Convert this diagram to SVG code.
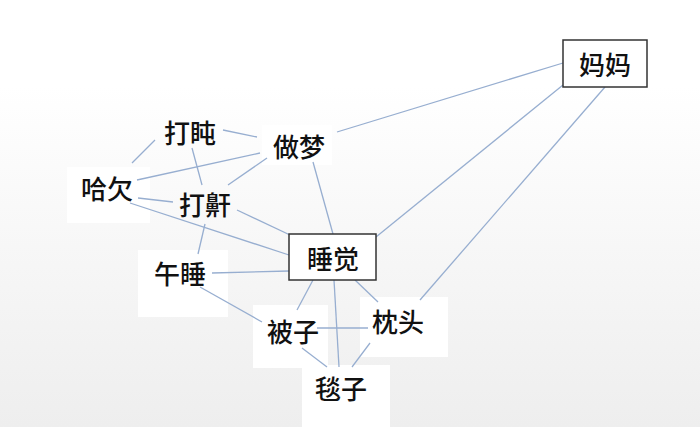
<svg xmlns="http://www.w3.org/2000/svg" width="700" height="427" viewBox="0 0 700 427">
<defs>
<linearGradient id="bg" x1="0" y1="0" x2="0" y2="1">
<stop offset="0" stop-color="#ffffff"/>
<stop offset="0.2" stop-color="#ffffff"/>
<stop offset="1" stop-color="#eeeeee"/>
</linearGradient>
<style>
.lbl{font-family:"Noto Sans CJK SC","Noto Sans",sans-serif;font-size:26px;font-weight:500;fill:#111;text-anchor:middle;dominant-baseline:central}
.pad{fill:#ffffff}
.box{fill:#ffffff;stroke:#333;stroke-width:1.5}
.edge line{stroke:#97aed0;stroke-width:1.3}
</style>
</defs>
<rect x="0" y="0" width="700" height="427" fill="url(#bg)"/>
<g id="pads">
<rect class="pad" x="67" y="167" width="83" height="56"/>
<rect class="pad" x="138" y="250" width="90" height="67"/>
<rect class="pad" x="253" y="305" width="75" height="63"/>
<rect class="pad" x="360" y="297" width="88" height="60"/>
<rect class="pad" x="302" y="365" width="88" height="62"/>
<rect class="pad" x="262" y="125" width="70" height="40"/>
</g>
<g class="edge" id="edges">
<line x1="132" y1="163" x2="155" y2="140"/>
<line x1="223" y1="130" x2="257" y2="137"/>
<line x1="137" y1="180" x2="260" y2="153"/>
<line x1="228" y1="185" x2="267" y2="158"/>
<line x1="192" y1="148" x2="202" y2="185"/>
<line x1="205" y1="224" x2="198" y2="254"/>
<line x1="138" y1="198" x2="173" y2="202"/>
<line x1="130" y1="203" x2="289" y2="255"/>
<line x1="237" y1="210" x2="290" y2="235"/>
<line x1="313" y1="162" x2="333" y2="234"/>
<line x1="337" y1="132" x2="563" y2="63"/>
<line x1="376" y1="237" x2="563" y2="85"/>
<line x1="605" y1="87" x2="420" y2="300"/>
<line x1="212" y1="273" x2="289" y2="271"/>
<line x1="200" y1="287" x2="262" y2="322"/>
<line x1="313" y1="280" x2="297" y2="310"/>
<line x1="334" y1="280" x2="339" y2="367"/>
<line x1="355" y1="280" x2="378" y2="302"/>
<line x1="317" y1="328" x2="368" y2="328"/>
<line x1="302" y1="348" x2="327" y2="367"/>
<line x1="370" y1="343" x2="352" y2="367"/>
</g>
<g id="n-mama"><rect class="box" x="563" y="40" width="84" height="47"/><text class="lbl" x="605" y="63">妈妈</text></g>
<g id="n-shuijiao"><rect class="box" x="289" y="234" width="87" height="46"/><text class="lbl" x="333" y="257">睡觉</text></g>
<g id="n-dadun"><text class="lbl" x="190" y="131">打盹</text></g>
<g id="n-zuomeng"><text class="lbl" x="299" y="145">做梦</text></g>
<g id="n-haqian"><text class="lbl" x="107" y="187">哈欠</text></g>
<g id="n-dahan"><text class="lbl" x="205" y="203">打鼾</text></g>
<g id="n-wushui"><text class="lbl" x="180" y="272">午睡</text></g>
<g id="n-beizi"><text class="lbl" x="293" y="330">被子</text></g>
<g id="n-zhentou"><text class="lbl" x="398" y="320">枕头</text></g>
<g id="n-tanzi"><text class="lbl" x="341" y="387">毯子</text></g>
</svg>
